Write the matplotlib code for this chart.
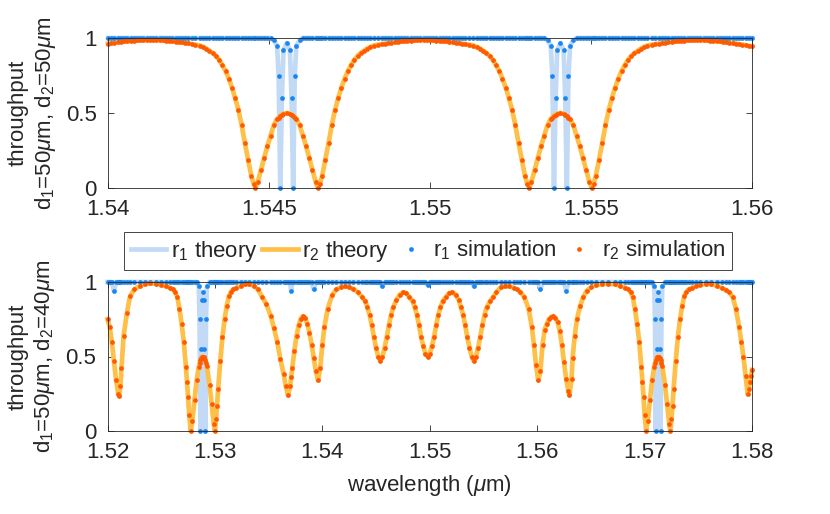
import numpy as np
import matplotlib
matplotlib.use("Agg")
import matplotlib.pyplot as plt

plt.rcParams["font.family"] = ["Liberation Sans", "DejaVu Sans"]
plt.rcParams["mathtext.fontset"] = "custom"
plt.rcParams["mathtext.rm"] = "Liberation Sans"
plt.rcParams["mathtext.it"] = "Liberation Sans:italic"
plt.rcParams["font.size"] = 16
plt.rcParams["text.color"] = "#262626"
plt.rcParams["axes.labelcolor"] = "#262626"

# ---- top panel: d1 = 50 um, d2 = 50 um ----
top_wl = [
    1.5400, 1.5401, 1.5402, 1.5403, 1.5404, 1.5405, 1.5406, 1.5407, 1.5408, 1.5409, 1.5410, 1.5411, 1.5412, 1.5413,
    1.5414, 1.5415, 1.5416, 1.5417, 1.5418, 1.5419, 1.5420, 1.5421, 1.5422, 1.5423, 1.5424, 1.5425, 1.5426, 1.5427,
    1.54285, 1.54295, 1.54305, 1.54315, 1.54325, 1.54335, 1.54345, 1.54355, 1.54365, 1.54375,
    1.54385, 1.54395, 1.54405, 1.54415, 1.54425, 1.54435, 1.54445, 1.54452, 1.54458, 1.54465,
    1.54475, 1.54485, 1.54495, 1.54505, 1.54515, 1.54525, 1.5453, 1.54535, 1.5454, 1.54545,
    1.54555,
    1.54565, 1.5457, 1.54575, 1.5458, 1.54585, 1.54595, 1.54605, 1.54615, 1.54625, 1.54635,
    1.54645, 1.54652, 1.54658, 1.54665, 1.54675, 1.54685, 1.54695, 1.54705, 1.54715, 1.54725,
    1.54735, 1.54745, 1.54755, 1.54765, 1.54775, 1.54785, 1.54795, 1.54805, 1.54815, 1.54825,
    1.5484, 1.5485, 1.5486, 1.5487, 1.5488, 1.5489, 1.5490, 1.5491, 1.5492, 1.5493, 1.5494, 1.5495, 1.5496, 1.5497,
    1.5498, 1.5499, 1.5500, 1.5501, 1.5502, 1.5503, 1.5504, 1.5505, 1.5506, 1.5507, 1.5508, 1.5509, 1.5510, 1.5511,
    1.5512,
    1.55135, 1.55145, 1.55155, 1.55165, 1.55175, 1.55185, 1.55195, 1.55205, 1.55215, 1.55225,
    1.55235, 1.55245, 1.55255, 1.55265, 1.55275, 1.55285, 1.55295, 1.55302, 1.55308, 1.55315,
    1.55325, 1.55335, 1.55345, 1.55355, 1.55365, 1.55375, 1.5538, 1.55385, 1.5539, 1.55395,
    1.55405,
    1.55415, 1.5542, 1.55425, 1.5543, 1.55435, 1.55445, 1.55455, 1.55465, 1.55475, 1.55485,
    1.55495, 1.55502, 1.55508, 1.55515, 1.55525, 1.55535, 1.55545, 1.55555, 1.55565, 1.55575,
    1.55585, 1.55595, 1.55605, 1.55615, 1.55625, 1.55635, 1.55645, 1.55655, 1.55665, 1.55675,
    1.5569, 1.5570, 1.5571, 1.5572, 1.5573, 1.5574, 1.5575, 1.5576, 1.5577, 1.5578, 1.5579, 1.5580, 1.5581, 1.5582,
    1.5583, 1.5584, 1.5585, 1.5586, 1.5587, 1.5588, 1.5589, 1.5590, 1.5591, 1.5592, 1.5593, 1.5594, 1.5595, 1.5596,
    1.5597, 1.5598, 1.5599, 1.5600,
]
top_r2 = [
    0.963, 0.966, 0.970, 0.973, 0.975, 0.977, 0.979, 0.981, 0.982, 0.984, 0.985, 0.986, 0.986, 0.987,
    0.986, 0.986, 0.985, 0.984, 0.982, 0.980, 0.978, 0.976, 0.974, 0.971, 0.968, 0.964, 0.960, 0.956,
    0.95, 0.94, 0.93, 0.915, 0.90, 0.88, 0.855, 0.82, 0.78, 0.73,
    0.67, 0.60, 0.52, 0.42, 0.30, 0.19, 0.08, 0.03, 0.0, 0.04,
    0.12, 0.20, 0.28, 0.35, 0.42, 0.46, 0.47, 0.48, 0.49, 0.495,
    0.50,
    0.495, 0.49, 0.48, 0.47, 0.46, 0.42, 0.35, 0.28, 0.20, 0.12,
    0.04, 0.0, 0.03, 0.08, 0.19, 0.30, 0.42, 0.52, 0.60, 0.67,
    0.73, 0.78, 0.82, 0.855, 0.88, 0.90, 0.915, 0.93, 0.94, 0.95,
    0.956, 0.960, 0.963, 0.966, 0.969, 0.972, 0.975, 0.977, 0.979, 0.981, 0.983, 0.984, 0.985, 0.986,
    0.987, 0.986, 0.985, 0.984, 0.983, 0.981, 0.979, 0.977, 0.975, 0.972, 0.969, 0.966, 0.963, 0.960,
    0.956,
    0.95, 0.94, 0.93, 0.915, 0.90, 0.88, 0.855, 0.82, 0.78, 0.73,
    0.67, 0.60, 0.52, 0.42, 0.30, 0.19, 0.08, 0.03, 0.0, 0.04,
    0.12, 0.20, 0.28, 0.35, 0.42, 0.46, 0.47, 0.48, 0.49, 0.495,
    0.50,
    0.495, 0.49, 0.48, 0.47, 0.46, 0.42, 0.35, 0.28, 0.20, 0.12,
    0.04, 0.0, 0.03, 0.08, 0.19, 0.30, 0.42, 0.52, 0.60, 0.67,
    0.73, 0.78, 0.82, 0.855, 0.88, 0.90, 0.915, 0.93, 0.94, 0.95,
    0.956, 0.960, 0.963, 0.966, 0.969, 0.972, 0.975, 0.977, 0.979, 0.981, 0.983, 0.984, 0.985, 0.986,
    0.987, 0.986, 0.985, 0.984, 0.983, 0.981, 0.979, 0.977, 0.975, 0.972, 0.969, 0.966, 0.963, 0.960,
    0.956, 0.952, 0.948, 0.944,
]
# r1 sits at 1 except at these wavelengths (the narrow double dips)
top_r1_dip_wl = [1.54515, 1.54525, 1.5453, 1.54535, 1.5454, 1.54545, 1.54555, 1.54565, 1.5457, 1.54575, 1.5458, 1.54585, 1.54595,
                 1.55365, 1.55375, 1.5538, 1.55385, 1.5539, 1.55395, 1.55405, 1.55415, 1.5542, 1.55425, 1.5543, 1.55435, 1.55445]
top_r1_dip = [0.985, 0.95, 0.75, 0.0, 0.6, 0.92, 0.965, 0.92, 0.6, 0.0, 0.75, 0.95, 0.985,
              0.985, 0.95, 0.75, 0.0, 0.6, 0.92, 0.965, 0.92, 0.6, 0.0, 0.75, 0.95, 0.985]

# ---- bottom panel: d1 = 50 um, d2 = 40 um ----
bot_wl = [
    1.5200, 1.5202, 1.5204, 1.5206, 1.5208, 1.5210, 1.5211, 1.5212, 1.5213, 1.5215,
    1.5218, 1.5221, 1.5225, 1.5230, 1.5235, 1.5240, 1.5245, 1.5250, 1.5254,
    1.5258, 1.5261, 1.5263, 1.5265, 1.5267, 1.5269, 1.5271, 1.5273, 1.5274, 1.5275,
    1.5276, 1.52775, 1.5279, 1.5281, 1.5283, 1.5285, 1.52857, 1.52865, 1.52872, 1.52879,
    1.52887, 1.52895, 1.52902, 1.52909, 1.52917, 1.52925, 1.5295, 1.5297, 1.5299, 1.5300,
    1.5301, 1.5302, 1.5303, 1.5305, 1.5307, 1.5309, 1.5311, 1.5313, 1.5315, 1.5317, 1.5320,
    1.5324, 1.5328, 1.5332, 1.5336, 1.5340, 1.5344, 1.5348, 1.5352, 1.5355, 1.5358,
    1.5361, 1.5364, 1.5366, 1.5368, 1.5370, 1.5371, 1.5372, 1.5374, 1.5376, 1.5378,
    1.5380, 1.5382, 1.5384, 1.5386, 1.5388, 1.5390, 1.5392, 1.5394, 1.5396, 1.5398,
    1.5400, 1.5402, 1.5405, 1.5409, 1.5413, 1.5417, 1.5421, 1.5425, 1.5429, 1.5433,
    1.5437, 1.5440, 1.5442, 1.5444, 1.5446, 1.5448, 1.5450, 1.5452, 1.5454, 1.5456,
    1.5458, 1.5460, 1.5462, 1.5464, 1.5466, 1.5469, 1.5472, 1.5475, 1.5478, 1.5481,
    1.5484, 1.5486, 1.5488, 1.5490, 1.5492, 1.5494, 1.5496, 1.5498, 1.5500, 1.5502,
    1.5504, 1.5506, 1.5508, 1.5510, 1.5512, 1.5515, 1.5518, 1.5521, 1.5524, 1.5527,
    1.5529, 1.5531, 1.5533, 1.5535, 1.5537, 1.5539, 1.5541, 1.5543, 1.5545, 1.5547,
    1.5549, 1.5551, 1.5553, 1.5556, 1.5559, 1.5562, 1.5566, 1.5570, 1.5574, 1.5578,
    1.5581, 1.5584, 1.5588, 1.5592, 1.5595, 1.5597, 1.5599, 1.5601, 1.5603, 1.5605,
    1.5607, 1.5609, 1.5611, 1.5613, 1.5615, 1.5617, 1.5619, 1.5621, 1.5623, 1.5625,
    1.5627, 1.5629, 1.5630, 1.5632, 1.5633, 1.5635, 1.5637, 1.5640, 1.5643, 1.5646,
    1.5650, 1.5655, 1.5660, 1.5666, 1.5672, 1.5677,
    1.5682, 1.5685, 1.5687, 1.5689, 1.5691, 1.5693, 1.5695, 1.5697, 1.5698, 1.5699,
    1.5700, 1.57015, 1.5703, 1.5705, 1.5707, 1.5709, 1.57097, 1.57105, 1.57112, 1.57119,
    1.57127, 1.57135, 1.57142, 1.57149, 1.57157, 1.57165, 1.5719, 1.5721, 1.5723, 1.5724,
    1.5725, 1.5726, 1.5727, 1.5729, 1.5731, 1.5733, 1.5735, 1.5737, 1.5739, 1.5741, 1.5744,
    1.5748, 1.5752, 1.5757, 1.5762, 1.5767, 1.5772, 1.5776, 1.5779, 1.5782, 1.5785,
    1.5788, 1.5790, 1.5792, 1.5794, 1.5796, 1.5797, 1.5798, 1.5799, 1.5800,
]
bot_r2 = [
    0.75, 0.70, 0.60, 0.47, 0.34, 0.25, 0.235, 0.30, 0.42, 0.64,
    0.79, 0.905, 0.95, 0.975, 0.987, 0.99, 0.988, 0.982, 0.972,
    0.962, 0.95, 0.93, 0.90, 0.82, 0.72, 0.60, 0.43, 0.33, 0.23,
    0.11, 0.0, 0.07, 0.21, 0.34, 0.43, 0.455, 0.475, 0.49, 0.497,
    0.50, 0.497, 0.49, 0.475, 0.455, 0.435, 0.31, 0.18, 0.045, 0.0,
    0.08, 0.17, 0.28, 0.47, 0.63, 0.75, 0.84, 0.905, 0.935, 0.95, 0.962,
    0.975, 0.985, 0.985, 0.975, 0.95, 0.90, 0.85, 0.77, 0.69, 0.60,
    0.48, 0.38, 0.30, 0.24, 0.30, 0.36, 0.42, 0.54, 0.64, 0.71,
    0.755, 0.77, 0.76, 0.72, 0.66, 0.58, 0.49, 0.40, 0.34, 0.42,
    0.58, 0.70, 0.82, 0.91, 0.95, 0.965, 0.97, 0.965, 0.955, 0.93,
    0.90, 0.87, 0.83, 0.78, 0.71, 0.63, 0.56, 0.50, 0.47, 0.50,
    0.56, 0.63, 0.71, 0.78, 0.83, 0.88, 0.915, 0.93, 0.925, 0.90,
    0.87, 0.83, 0.78, 0.71, 0.63, 0.57, 0.52, 0.50, 0.52, 0.57,
    0.63, 0.71, 0.78, 0.83, 0.87, 0.90, 0.925, 0.93, 0.915, 0.88,
    0.83, 0.78, 0.71, 0.63, 0.56, 0.50, 0.47, 0.50, 0.56, 0.63,
    0.71, 0.78, 0.83, 0.87, 0.90, 0.93, 0.965, 0.972, 0.97, 0.962,
    0.95, 0.935, 0.90, 0.82, 0.70, 0.58, 0.44, 0.34, 0.40, 0.58,
    0.68, 0.72, 0.75, 0.765, 0.77, 0.76, 0.73, 0.67, 0.58, 0.46,
    0.35, 0.27, 0.24, 0.35, 0.49, 0.64, 0.75, 0.84, 0.90, 0.94,
    0.965, 0.98, 0.985, 0.988, 0.985, 0.975,
    0.962, 0.95, 0.93, 0.90, 0.82, 0.72, 0.60, 0.43, 0.33, 0.23,
    0.11, 0.0, 0.07, 0.21, 0.34, 0.43, 0.455, 0.475, 0.49, 0.497,
    0.50, 0.497, 0.49, 0.475, 0.455, 0.435, 0.31, 0.18, 0.045, 0.0,
    0.08, 0.17, 0.28, 0.47, 0.63, 0.75, 0.84, 0.905, 0.935, 0.95, 0.962,
    0.975, 0.983, 0.987, 0.985, 0.975, 0.96, 0.945, 0.93, 0.90, 0.82,
    0.70, 0.60, 0.50, 0.37, 0.245, 0.28, 0.33, 0.37, 0.41,
]
bot_r1_dip_wl = [1.5206, 1.5285, 1.52857, 1.52865, 1.52872, 1.52879, 1.52887, 1.52895, 1.52902, 1.52909, 1.52917, 1.52925,
                 1.5371, 1.5392, 1.5456, 1.5498, 1.5541, 1.5603, 1.5627,
                 1.5709, 1.57097, 1.57105, 1.57112, 1.57119, 1.57127, 1.57135, 1.57142, 1.57149, 1.57157, 1.57165]
bot_r1_dip = [0.94, 0.97, 0.75, 0.0, 0.55, 0.88, 0.93, 0.88, 0.55, 0.0, 0.75, 0.97,
              0.94, 0.95, 0.97, 0.98, 0.97, 0.95, 0.94,
              0.97, 0.75, 0.0, 0.55, 0.88, 0.93, 0.88, 0.55, 0.0, 0.75, 0.97]

top_xticks = [1.54, 1.545, 1.55, 1.555, 1.56]
top_xticklabels = ["1.54", "1.545", "1.55", "1.555", "1.56"]
bot_xticks = [1.52, 1.53, 1.54, 1.55, 1.56, 1.57, 1.58]
bot_xticklabels = ["1.52", "1.53", "1.54", "1.55", "1.56", "1.57", "1.58"]
yticks = [0, 0.5, 1]
yticklabels = ["0", "0.5", "1"]
series_labels = ["r$_1$ theory", "r$_2$ theory", "r$_1$ simulation", "r$_2$ simulation"]

c_r1_theory = "#c2daf6"
c_r2_theory = "#ffc04a"
c_r1_sim = "#1a86ef"
c_r2_sim = "#ff5a00"
ink = "#262626"


def r1_from_dips(wl, dip_wl, dip_val):
    lookup = dict(zip(dip_wl, dip_val))
    return np.array([lookup.get(w, 1.0) for w in wl])


def draw_panel(ax, wl, r1, r2):
    h1, = ax.plot(wl, r1, color=c_r1_theory, lw=3.4, clip_on=False)
    h2, = ax.plot(wl, r2, color=c_r2_theory, lw=3.4, clip_on=False)
    h3, = ax.plot(wl, r1, ls="none", marker="o", ms=3.4, mew=0, color=c_r1_sim, clip_on=False)
    h4, = ax.plot(wl, r2, ls="none", marker="o", ms=3.4, mew=0, color=c_r2_sim, clip_on=False)
    ax.set_ylim(0, 1)
    ax.set_yticks(yticks)
    ax.set_yticklabels(yticklabels)
    ax.tick_params(direction="in", length=4, width=0.6, top=True, right=True,
                   colors=ink, labelsize=16)
    ax.tick_params(axis="x", pad=8)
    ax.tick_params(axis="y", pad=8)
    for sp in ax.spines.values():
        sp.set_color(ink)
        sp.set_linewidth(0.6)
    return [h1, h2, h3, h4]


fig = plt.figure(figsize=(8.3, 5.14), dpi=100)
ax1 = fig.add_axes([108 / 830, (514 - 188) / 514, 644 / 830, 150 / 514])
ax2 = fig.add_axes([107.5 / 830, (514 - 431) / 514, 644.5 / 830, 149 / 514])

top_r1 = r1_from_dips(top_wl, top_r1_dip_wl, top_r1_dip)
bot_r1 = r1_from_dips(bot_wl, bot_r1_dip_wl, bot_r1_dip)

draw_panel(ax1, top_wl, top_r1, top_r2)
handles = draw_panel(ax2, bot_wl, bot_r1, bot_r2)

ax1.set_xlim(1.54, 1.56)
ax1.set_xticks(top_xticks)
ax1.set_xticklabels(top_xticklabels)
ax2.set_xlim(1.52, 1.58)
ax2.set_xticks(bot_xticks)
ax2.set_xticklabels(bot_xticklabels)

ax1.set_ylabel("throughput\nd$_1$=50$\\mu$m, d$_2$=50$\\mu$m", labelpad=6)
ax2.set_ylabel("throughput\nd$_1$=50$\\mu$m, d$_2$=40$\\mu$m", labelpad=6)
ax2.set_xlabel("wavelength ($\\mu$m)", labelpad=7)

leg = fig.legend(handles, series_labels, loc="center", bbox_to_anchor=(428 / 830, (514 - 251) / 514),
                 ncol=4, frameon=True, fancybox=False, edgecolor=ink, framealpha=1,
                 handlelength=1.6, handletextpad=0.2, columnspacing=0.2,
                 borderpad=0.3, borderaxespad=0, fontsize=16, markerscale=1.0)
leg.get_frame().set_linewidth(0.6)

fig.savefig("out.png", dpi=100)
